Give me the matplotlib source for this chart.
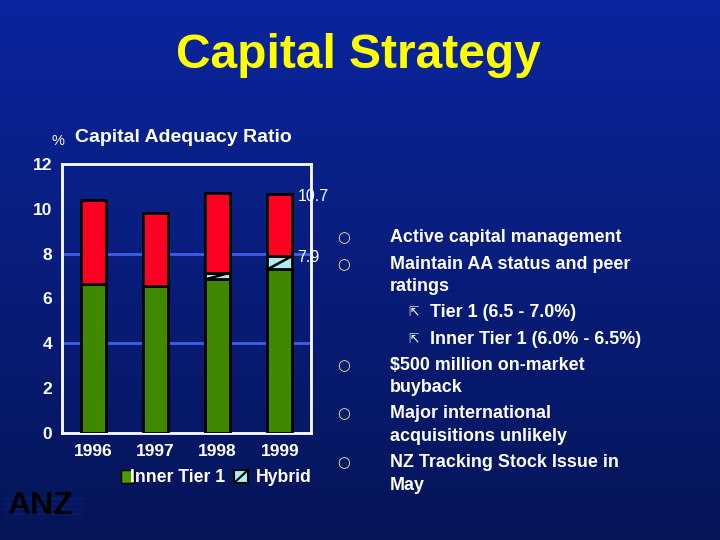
import numpy as np
import matplotlib
matplotlib.use("Agg")
import matplotlib.pyplot as plt
from matplotlib.patches import Rectangle
from matplotlib.lines import Line2D

plt.rcParams['font.family'] = ['Liberation Sans', 'DejaVu Sans']

years = ["1996", "1997", "1998", "1999"]
inner_tier1 = [6.65, 6.55, 6.85, 7.3]
hybrid = [0.0, 0.0, 0.3, 0.6]
total = [10.4, 9.8, 10.7, 10.65]
yticks = [0, 2, 4, 6, 8, 10, 12]
gridlines = [4, 8]
label_vals = [10.7, 7.9]
label_pos = [10.55, 7.82]

bullets = [
    (0, ["Active capital management"]),
    (0, ["Maintain AA status and peer", "ratings"]),
    (1, ["Tier 1 (6.5 - 7.0%)"]),
    (1, ["Inner Tier 1 (6.0% - 6.5%)"]),
    (0, ["$500 million on-market", "buyback"]),
    (0, ["Major international", "acquisitions unlikely"]),
    (0, ["NZ Tracking Stock Issue in", "May"]),
]

W, H = 720, 540
fig = plt.figure(figsize=(7.2, 5.4), dpi=100)

# background gradient
bg = fig.add_axes([0, 0, 1, 1], zorder=-10)
top = np.array([0x0A, 0x25, 0x9E]) / 255
bot = np.array([0x06, 0x15, 0x58]) / 255
t = np.linspace(0, 1, 256)[:, None]
grad = (top[None, :] * (1 - t) + bot[None, :] * t)[:, None, :]
bg.imshow(np.repeat(grad, 2, axis=1), aspect='auto', extent=[0, 1, 0, 1])
bg.set_axis_off()

def fx(px):
    return px / W

def fy(py):
    return 1 - py / H

# title
fig.text(fx(358), fy(56), "Capital Strategy", color="#FFFF00", fontsize=34.5,
         fontweight="bold", ha="center", va="center")

# chart subtitle
fig.text(fx(52), fy(141), "%", color="white", fontsize=10.5, ha="left", va="center")
fig.text(fx(75), fy(138), "Capital Adequacy Ratio", color="white", fontsize=14,
         fontweight="bold", ha="left", va="center")

ax = fig.add_axes([fx(62), fy(433), fx(311) - fx(62), fy(164) - fy(433)])
ax.set_facecolor("none")
x = np.arange(len(years))
bw = 0.4
green = "#3F8800"
red = "#FF0022"
cyan = "#A8EEEE"
inner = np.array(inner_tier1)
hyb = np.array(hybrid)
tot = np.array(total)
ax.bar(x, inner, bw, color=green, edgecolor="black", linewidth=2, zorder=3)
mask = hyb > 0
ax.bar(x[mask], hyb[mask], bw, bottom=inner[mask], color=cyan, edgecolor="black",
       linewidth=2, zorder=3)
for xi, b, h in zip(x[mask], inner[mask], hyb[mask]):
    ax.plot([xi - bw / 2, xi + bw / 2], [b, b + h], color="black", lw=1.8, zorder=4)
ax.bar(x, tot - inner - hyb, bw, bottom=inner + hyb, color=red, edgecolor="black",
       linewidth=2, zorder=3)
for g in gridlines:
    ax.axhline(g, color="#3F5FE8", lw=2, zorder=1)
ax.set_xlim(-0.5, 3.5)
ax.set_ylim(0, 12)
ax.set_yticks(yticks)
ax.set_yticklabels([str(v) for v in yticks], color="white", fontsize=12.5,
                   fontweight="bold")
ax.set_xticks(x)
ax.set_xticklabels(years, color="white", fontsize=12.5, fontweight="bold")
ax.tick_params(axis='y', length=0, pad=7)
ax.tick_params(axis='x', length=0, pad=8)
for s in ax.spines.values():
    s.set_color("white")
    s.set_linewidth(2)
for v, p in zip(label_vals, label_pos):
    ax.text(3.28, p, f"{v}", color="white", fontsize=11.5, ha="left", va="center",
            zorder=5, clip_on=False)

# legend
fig.patches.append(Rectangle((fx(121), fy(483)), fx(13), fy(470) - fy(483),
                             transform=fig.transFigure, facecolor="#4A9A00",
                             edgecolor="black", lw=1))
fig.text(fx(130), fy(477), "Inner Tier 1", color="white", fontsize=12.7,
         fontweight="bold", ha="left", va="center")
fig.patches.append(Rectangle((fx(234), fy(483)), fx(14), fy(470) - fy(483),
                             transform=fig.transFigure, facecolor=cyan,
                             edgecolor="black", lw=1.5))
fig.lines.append(Line2D([fx(234), fx(248)], [fy(483), fy(470)],
                        transform=fig.transFigure, color="black", lw=1.5))
fig.text(fx(256), fy(477), "Hybrid", color="white", fontsize=12.7,
         fontweight="bold", ha="left", va="center")

# bullets
y = 238
for lvl, lines in bullets:
    if lvl == 0:
        fig.text(fx(344), fy(y), "○", color="#E6EE9A", fontsize=10.5,
                 ha="center", va="center", family=["DejaVu Sans"], fontweight="bold")
        tx = 390
    else:
        fig.text(fx(414), fy(y), "⇱", color="white", fontsize=9,
                 ha="center", va="center", family=["DejaVu Sans"])
        tx = 430
    for i, ln in enumerate(lines):
        fig.text(fx(tx), fy(y), ln, color="white", fontsize=12.9,
                 fontweight="bold", ha="left", va="center")
        y += 22.5
    y += 3.7

# ANZ logo
fig.text(fx(7), fy(506), "ANZ", color="black", fontsize=23, fontweight="bold",
         ha="left", va="center")
for yy in [499, 504, 509, 514]:
    fig.lines.append(Line2D([fx(5), fx(82)], [fy(yy), fy(yy)],
                            transform=fig.transFigure, color="#081A70", lw=1.5))

fig.savefig("out.png", dpi=100)
